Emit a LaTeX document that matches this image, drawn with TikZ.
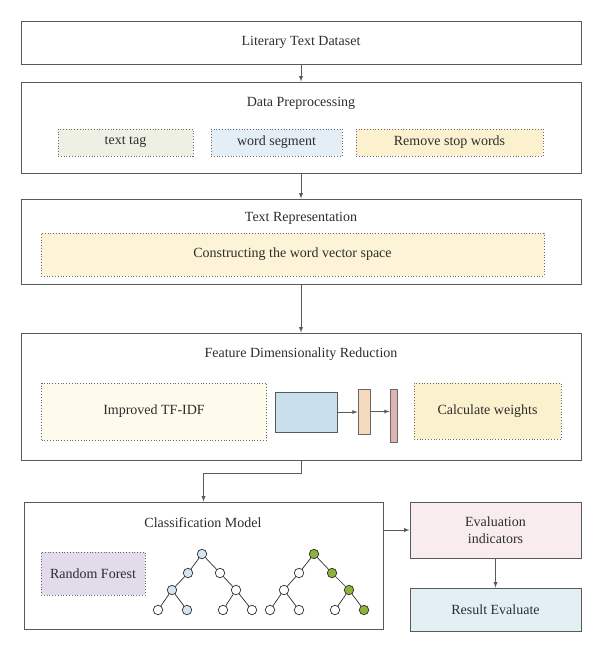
\documentclass[tikz,border=0pt]{standalone}
\usepackage{xcolor}
\usepackage{fontspec}
\setmainfont{Liberation Serif}
\usepackage{tikz}
\definecolor{boxline}{RGB}{90,90,90}
\definecolor{dotline}{RGB}{105,105,105}
\definecolor{txtgray}{RGB}{45,45,45}
\definecolor{taggreen}{RGB}{238,240,228}
\definecolor{segblue}{RGB}{228,238,246}
\definecolor{stopyellow}{RGB}{252,241,207}
\definecolor{vecyellow}{RGB}{253,243,214}
\definecolor{tfidfyellow}{RGB}{254,250,236}
\definecolor{weightyellow}{RGB}{252,241,205}
\definecolor{rfpurple}{RGB}{225,219,234}
\definecolor{layerblue}{RGB}{201,223,236}
\definecolor{layerorange}{RGB}{245,217,190}
\definecolor{layerpink}{RGB}{221,181,180}
\definecolor{evalpink}{RGB}{248,236,239}
\definecolor{resblue}{RGB}{227,239,245}
\definecolor{treeblue}{RGB}{211,229,240}
\definecolor{treegreen}{RGB}{141,179,58}

\begin{document}
\begin{tikzpicture}[x=1pt, y=-1pt, >=latex, every node/.style={text centered, inner sep=0pt, text=txtgray, font=\fontsize{14}{16.5}\selectfont}, stage/.style={draw=boxline, line width=0.9pt, fill=white}, sub/.style={draw=dotline, dotted, line width=0.8pt}, tnode/.style={draw=txtgray, circle, minimum size=9.5pt, line width=0.7pt, fill=white}]
        \useasboundingbox (0,0) rectangle (600,653);
        \node[stage, minimum width=560pt, minimum height=43pt] (lit) at (301,42.5) {Literary Text Dataset};
        \node[stage, minimum width=560pt, minimum height=91pt] (prep) at (301,127.5) {};
        \node (preptitle) at (301,103) {Data Preprocessing};
        \node[sub, fill=taggreen, minimum width=135pt, minimum height=27pt] (tag) at (125.5,142.5) {text tag};
        \node[sub, fill=segblue, minimum width=131pt, minimum height=27pt] (seg) at (276.5,142.5) {word segment};
        \node[sub, fill=stopyellow, minimum width=187pt, minimum height=27pt] (stop) at (449.5,142.5) {Remove stop words};

        \node[stage, minimum width=560pt, minimum height=85pt] (rep) at (301,241.5) {};
        \node (reptitle) at (301,218) {Text Representation};
        \node[sub, fill=vecyellow, minimum width=503pt, minimum height=43pt] (vec) at (292.5,254.5) {Constructing the word vector space};

        \node[stage, minimum width=560pt, minimum height=127pt] (fdr) at (301,396.5) {};
        \node (fdrtitle) at (301,354) {Feature Dimensionality Reduction};
        \node[sub, fill=tfidfyellow, minimum width=225pt, minimum height=57pt] (tfidf) at (154,411.5) {Improved TF-IDF};
        \node[draw=boxline, fill=layerblue, line width=0.8pt, minimum width=62pt, minimum height=40pt] (blk) at (306,412) {};
        \node[draw=dotline, fill=layerorange, line width=0.8pt, minimum width=12pt, minimum height=45pt] (bar1) at (364,411.5) {};
        \node[draw=dotline, fill=layerpink, line width=0.8pt, minimum width=7pt, minimum height=53pt] (bar2) at (393.5,415.5) {};
        \node[sub, fill=weightyellow, minimum width=147pt, minimum height=56pt] (wts) at (487.5,411) {Calculate weights};

        \node[stage, minimum width=359pt, minimum height=127pt] (cls) at (203.5,565.5) {};
        \node (clstitle) at (203,523) {Classification Model};
        \node[sub, fill=rfpurple, minimum width=104pt, minimum height=43pt] (rf) at (93,573.5) {Random Forest};

        \node[stage, fill=evalpink, align=center, minimum width=171pt, minimum height=56pt] (eval) at (495.5,530) {Evaluation\\indicators};
        \node[stage, fill=resblue, minimum width=171pt, minimum height=43pt] (res) at (495.5,609.5) {Result Evaluate};

        % first tree
        \node[tnode, fill=treeblue] (a0) at (202,554) {};
        \node[tnode, fill=treeblue] (a1) at (188,573) {};
        \node[tnode] (a2) at (220,573) {};
        \node[tnode, fill=treeblue] (a3) at (172,590) {};
        \node[tnode] (a4) at (236,590) {};
        \node[tnode] (a5) at (158,610) {};
        \node[tnode, fill=treeblue] (a6) at (187,610) {};
        \node[tnode] (a7) at (223,610) {};
        \node[tnode] (a8) at (252,610) {};
        \draw[line width=0.7pt, color=txtgray] (a0) -- (a1) (a0) -- (a2) (a1) -- (a3) (a2) -- (a4) (a3) -- (a5) (a3) -- (a6) (a4) -- (a7) (a4) -- (a8);

        % second tree
        \node[tnode, fill=treegreen] (b0) at (314,554) {};
        \node[tnode] (b1) at (299,573) {};
        \node[tnode, fill=treegreen] (b2) at (332,573) {};
        \node[tnode] (b3) at (284,590) {};
        \node[tnode, fill=treegreen] (b4) at (349,590) {};
        \node[tnode] (b5) at (270,610) {};
        \node[tnode] (b6) at (299,610) {};
        \node[tnode] (b7) at (335,610) {};
        \node[tnode, fill=treegreen] (b8) at (364,610) {};
        \draw[line width=0.7pt, color=txtgray] (b0) -- (b1) (b0) -- (b2) (b1) -- (b3) (b2) -- (b4) (b3) -- (b5) (b3) -- (b6) (b4) -- (b7) (b4) -- (b8);

        \draw[->, line width=0.9pt, color=boxline] (lit) -- (prep);
        \draw[->, line width=0.9pt, color=boxline] (prep) -- (rep);
        \draw[->, line width=0.9pt, color=boxline] (rep) -- (fdr);
        \draw[->, line width=0.9pt, color=boxline] (fdr.south) -- ++(0,13) -| (cls.north);
        \draw[->, line width=0.9pt, color=boxline] (cls.east |- eval.west) -- (eval.west);
        \draw[->, line width=0.9pt, color=boxline] (eval) -- (res);
        \draw[->, line width=0.8pt, color=boxline] (blk.east) -- (blk.east -| bar1.west);
        \draw[->, line width=0.8pt, color=boxline] (bar1.east) -- (bar1.east -| bar2.west);
    \end{tikzpicture}
\end{document}
